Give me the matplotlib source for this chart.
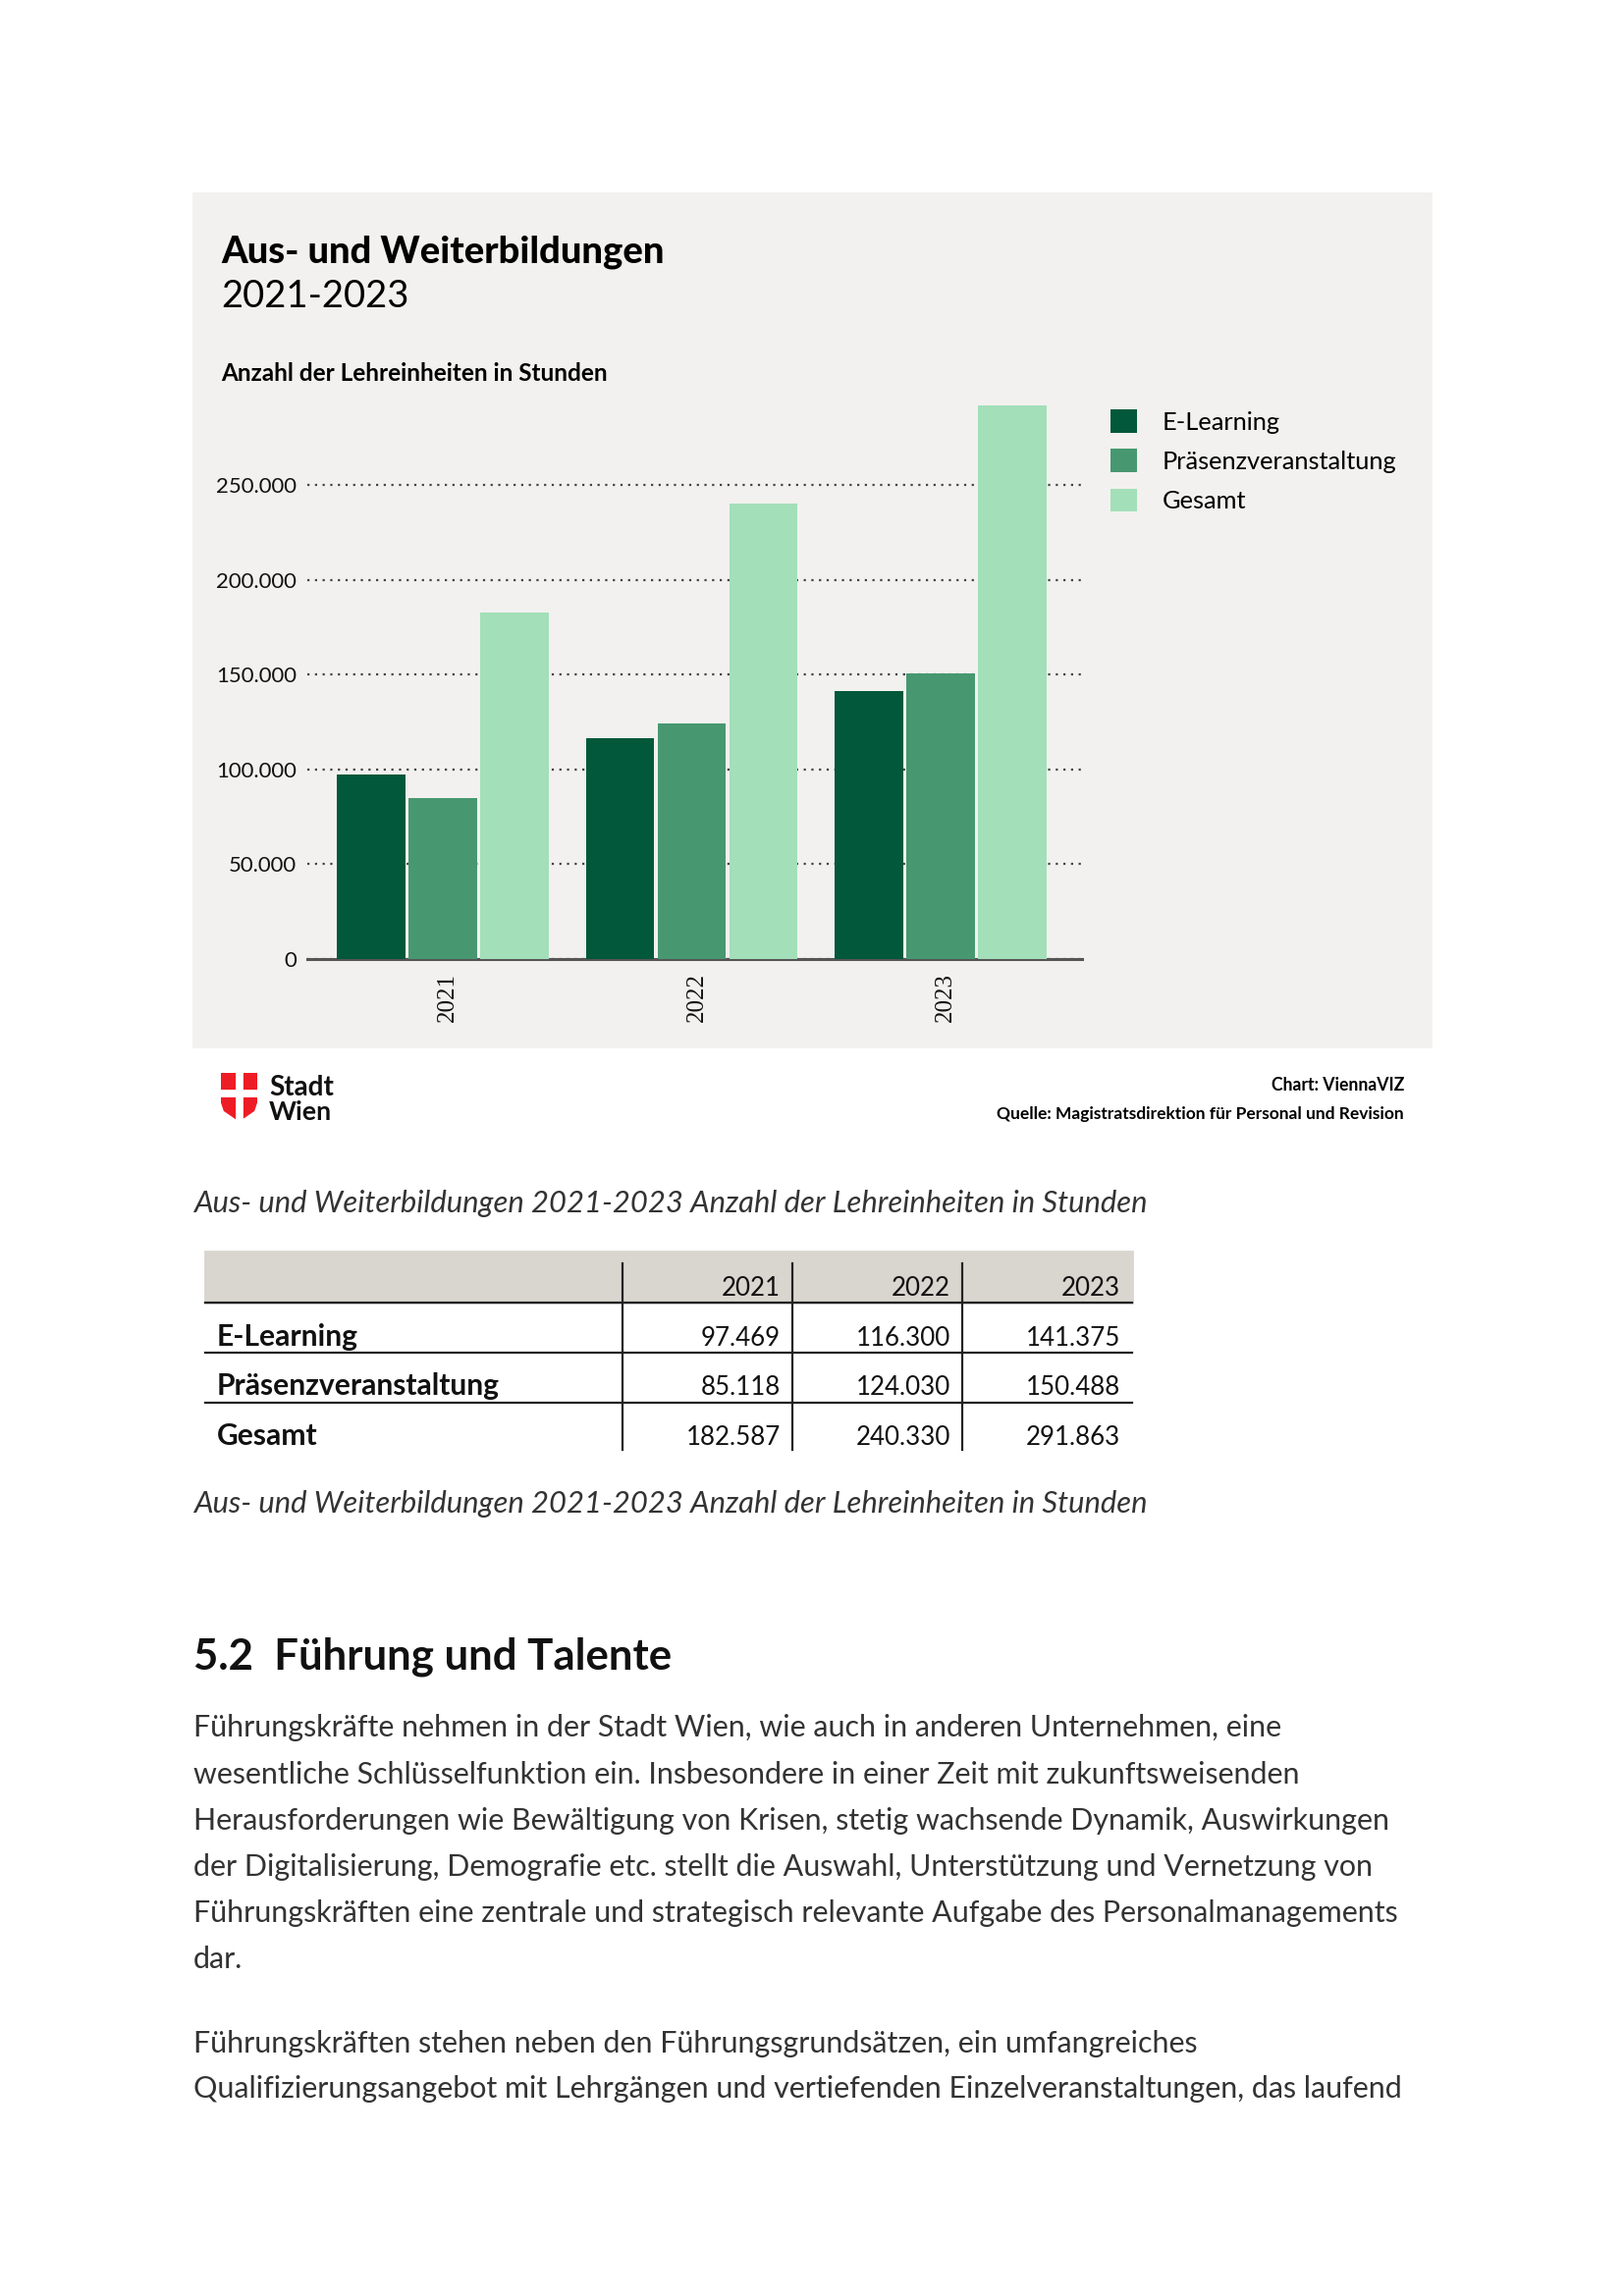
import matplotlib
matplotlib.use("Agg")
import matplotlib.pyplot as plt
from matplotlib.patches import Rectangle, Polygon
from matplotlib.ticker import FuncFormatter
import numpy as np

W, H = 1654, 2339
DPI = 200

# data
years = ["2021", "2022", "2023"]
series = ["E-Learning", "Präsenzveranstaltung", "Gesamt"]
e_learning = [97469, 116300, 141375]
praesenz = [85118, 124030, 150488]
gesamt = [182587, 240330, 291863]
yticks = [0, 50000, 100000, 150000, 200000, 250000]

colors = ["#02583a", "#479870", "#a3dfb9"]
panel_bg = "#f2f1ef"
head_bg = "#d9d5cf"
body_col = "#333333"

plt.rcParams["font.family"] = ["Lato", "DejaVu Sans"]


def de(v):
    return f"{int(v):,}".replace(",", ".")


def fx(px):
    return px / W


def fy(py):
    return 1 - py / H


fig = plt.figure(figsize=(W / DPI, H / DPI), dpi=DPI)
fig.patch.set_facecolor("white")
renderer = fig.canvas.get_renderer()


def text(x, y, s, width=None, size=10, **kw):
    t = fig.text(fx(x), fy(y), s, fontsize=size, **kw)
    if width is not None:
        bb = t.get_window_extent(renderer)
        t.set_fontsize(size * width / bb.width)
    return t


def fit_size(s, width, **kw):
    t = fig.text(0, 0, s, fontsize=10, **kw)
    bb = t.get_window_extent(renderer)
    t.remove()
    return 10 * width / bb.width


# chart panel
fig.patches.append(Rectangle((fx(197), fy(1066)), fx(1457) - fx(197), fy(197) - fy(1066),
                             transform=fig.transFigure, color=panel_bg, zorder=-5))

text(225, 268, "Aus- und Weiterbildungen", width=452, fontweight=900, va="baseline")
text(225, 313, "2021-2023", width=191, va="baseline")
text(225, 388, "Anzahl der Lehreinheiten in Stunden", width=394, fontweight="bold",
     va="baseline")

# bar chart
top = 977 - gesamt[2] / 250000 * 483
ax = fig.add_axes([fx(313), fy(977), fx(1102) - fx(313), (977 - top) / H], zorder=2)
ax.set_facecolor("none")
x = np.arange(len(years))
off = 0.288
bw = 0.275
for i, vals in enumerate([e_learning, praesenz, gesamt]):
    ax.bar(x + (i - 1) * off, vals, bw, color=colors[i], label=series[i], zorder=3)
ax.set_xlim(-0.544, 2.567)
ax.set_ylim(0, gesamt[2])
ax.set_yticks(yticks)
ax.yaxis.set_major_formatter(FuncFormatter(lambda v, p: de(v)))
ax.grid(axis="y", color="#444444", linestyle=(0, (1, 2.5)), linewidth=0.8, zorder=1)
ax.set_axisbelow(True)
for s in ["top", "right", "left"]:
    ax.spines[s].set_visible(False)
ax.spines["bottom"].set_color("#555555")
ax.spines["bottom"].set_linewidth(1.1)
ax.set_xticks(x + 0.02)
ax.set_xticklabels(years, rotation=90, family=["Liberation Serif", "DejaVu Serif"],
                   fontsize=9)
ytick_fs = fit_size("250.000", 80) * 1.03
ax.tick_params(axis="y", length=0, pad=4.0, labelsize=ytick_fs, labelcolor="#111111")
ax.tick_params(axis="x", length=0, pad=5.0, labelcolor="#111111")

leg_fs = fit_size("Präsenzveranstaltung", 233) * 1.03
fs_px = leg_fs * DPI / 72
ax.legend(loc="upper left", bbox_to_anchor=(fx(1131), fy(417)),
          bbox_transform=fig.transFigure, frameon=False, borderaxespad=0, borderpad=0,
          fontsize=leg_fs, handlelength=27 / fs_px, handleheight=27 / fs_px,
          handletextpad=26 / fs_px, labelspacing=0.62)

# footer of the chart
lax = fig.add_axes([fx(225), fy(1141), fx(262) - fx(225), (1141 - 1093) / H])
lax.set_xlim(0, 37)
lax.set_ylim(0, 48)
lax.axis("off")
lax.add_patch(Polygon([(0, 48), (37, 48), (37, 22), (33, 10), (18.5, 0), (4, 10), (0, 22)],
                      closed=True, color="#ee1c25"))
lax.add_patch(Rectangle((16, 0), 5, 48, color="white"))
lax.add_patch(Rectangle((0, 25), 37, 5, color="white"))
text(274, 1116, "Stadt", width=66, fontweight="bold", va="baseline", color="#111111")
text(274, 1141, "Wien", width=64, fontweight="bold", va="baseline", color="#111111")
text(1430, 1111, "Chart: ViennaVIZ", width=136, fontweight="bold", ha="right",
     va="baseline")
text(1430, 1140, "Quelle: Magistratsdirektion für Personal und Revision", width=413,
     fontweight="bold", ha="right", va="baseline")

caption = "Aus- und Weiterbildungen 2021-2023 Anzahl der Lehreinheiten in Stunden"
text(197, 1235, caption, width=972, style="italic", va="baseline", color=body_col)

# data table
fig.patches.append(Rectangle((fx(209), fy(1327)), fx(1153) - fx(209), fy(1275) - fy(1327),
                             transform=fig.transFigure, color=head_bg, zorder=-5))
for yy in [1327, 1378, 1429]:
    fig.add_artist(plt.Line2D([fx(209), fx(1153)], [fy(yy), fy(yy)], color="#222222",
                              linewidth=0.8, transform=fig.transFigure))
for xx in [634, 807, 980]:
    fig.add_artist(plt.Line2D([fx(xx), fx(xx)], [fy(1287), fy(1477)], color="#222222",
                              linewidth=0.8, transform=fig.transFigure))
val_fs = fit_size("97.469", 75) * 1.08
lab_fs = fit_size("Präsenzveranstaltung", 288, fontweight="bold")
col_right = [795, 968, 1141]
for j, yr in enumerate(years):
    text(col_right[j], 1320, yr, size=val_fs, ha="right", va="baseline", color="#111111")
row_base = [1371, 1421, 1472]
for i, vals in enumerate([e_learning, praesenz, gesamt]):
    text(221, row_base[i], series[i], size=lab_fs, fontweight="bold", va="baseline",
         color="#111111")
    for j, v in enumerate(vals):
        text(col_right[j], row_base[i], de(v), size=val_fs, ha="right", va="baseline",
             color="#111111")

text(197, 1541, caption, width=972, style="italic", va="baseline", color=body_col)

# following section
text(197, 1700, "5.2  Führung und Talente", width=488, fontweight="bold", va="baseline",
     color="#111111")
para = [
    "Führungskräfte nehmen in der Stadt Wien, wie auch in anderen Unternehmen, eine",
    "wesentliche Schlüsselfunktion ein. Insbesondere in einer Zeit mit zukunftsweisenden",
    "Herausforderungen wie Bewältigung von Krisen, stetig wachsende Dynamik, Auswirkungen",
    "der Digitalisierung, Demografie etc. stellt die Auswahl, Unterstützung und Vernetzung von",
    "Führungskräften eine zentrale und strategisch relevante Aufgabe des Personalmanagements",
    "dar.",
    "Führungskräften stehen neben den Führungsgrundsätzen, ein umfangreiches",
    "Qualifizierungsangebot mit Lehrgängen und vertiefenden Einzelveranstaltungen, das laufend",
]
para_base = [1769, 1817, 1864, 1911, 1958, 2005, 2091, 2137]
para_width = [1104, 1122, 1222, 1201, 1238, 52, 1035, 1245]
fits = [fit_size(s, w) for s, w in zip(para, para_width) if len(s) > 10]
para_fs = float(np.median(fits))
for s, b in zip(para, para_base):
    text(197, b, s, size=para_fs, va="baseline", color=body_col)

fig.savefig("out.png", dpi=DPI, facecolor="white")
